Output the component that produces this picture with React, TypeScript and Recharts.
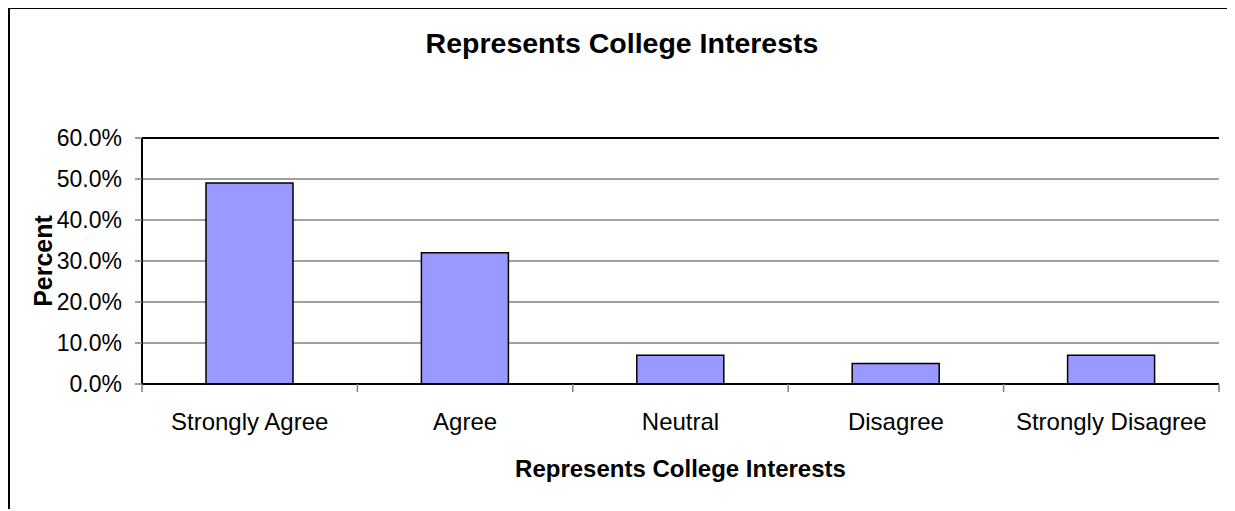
import React from 'react'
import {
  BarChart,
  Bar,
  XAxis,
  YAxis,
  CartesianGrid,
  ReferenceLine,
} from 'recharts'

const categories = ['Strongly Agree', 'Agree', 'Neutral', 'Disagree', 'Strongly Disagree']
const percents = [0.49, 0.32, 0.07, 0.05, 0.07]
const yTicks = [0, 0.1, 0.2, 0.3, 0.4, 0.5, 0.6]

const data = categories.map((name, i) => ({ name, value: percents[i] }))

const FONT = '"Liberation Sans", Arial, sans-serif'
const LABEL_GAP = 29

function XTitle({ viewBox, text }: any) {
  const vb = viewBox || { x: 0, y: 0, width: 0, height: 0 }
  return (
    <text
      x={vb.x + vb.width / 2}
      y={vb.y + 93}
      textAnchor="middle"
      fontFamily={FONT}
      fontWeight="bold"
      fontSize={24}
      fill="#000"
    >
      {text}
    </text>
  )
}

function YTitle({ viewBox, text }: any) {
  const vb = viewBox || { x: 0, y: 0, width: 0, height: 0 }
  const cx = 33
  const cy = vb.y + vb.height / 2
  return (
    <text
      x={cx}
      y={cy}
      transform={`rotate(-90, ${cx}, ${cy})`}
      textAnchor="middle"
      dominantBaseline="central"
      fontFamily={FONT}
      fontWeight="bold"
      fontSize={25}
      fill="#000"
    >
      {text}
    </text>
  )
}

// category label plus the tick marks on the category boundaries
function CategoryTick({ x, y, payload, index, visibleTicksCount }: any) {
  const half = payload?.offset ?? 0
  const axisY = y - LABEL_GAP
  const last = index === (visibleTicksCount ?? categories.length) - 1
  return (
    <g>
      <line x1={x - half} x2={x - half} y1={axisY} y2={axisY + 8} stroke="#808080" strokeWidth={1.5} />
      {last && (
        <line x1={x + half} x2={x + half} y1={axisY} y2={axisY + 8} stroke="#808080" strokeWidth={1.5} />
      )}
      <text x={x} y={y} dy="0.71em" textAnchor="middle" fontFamily={FONT} fontSize={24} fill="#000">
        {payload.value}
      </text>
    </g>
  )
}

export default function App() {
  return (
    <div
      style={{
        position: 'relative',
        width: 1224,
        height: 500,
        borderLeft: '2px solid #000',
        borderTop: '1px solid #000',
        borderRight: '1px solid #999',
        background: '#fff',
      }}
    >
      <div
        style={{
          position: 'absolute',
          left: 0,
          right: 0,
          top: 20,
          textAlign: 'center',
          fontFamily: FONT,
          fontWeight: 'bold',
          fontSize: 28.5,
          lineHeight: '28px',
          color: '#000',
        }}
      >
        Represents College Interests
      </div>
      <BarChart
        width={1224}
        height={500}
        data={data}
        margin={{ top: 129, right: 15, bottom: 25, left: 0 }}
      >
        <CartesianGrid horizontal vertical={false} stroke="#808080" strokeWidth={1.5} />
        <XAxis xAxisId="b" type="number" domain={[0, 5]} hide />
        <XAxis
          dataKey="name"
          height={100}
          tickLine={false}
          tickSize={0}
          tickMargin={LABEL_GAP}
          axisLine={{ stroke: '#000', strokeWidth: 2 }}
          tick={<CategoryTick />}
          interval={0}
          label={<XTitle text="Represents College Interests" />}
        />
        <YAxis
          width={132}
          domain={[0, 0.6]}
          ticks={yTicks}
          tickSize={7}
          tickMargin={13}
          tickFormatter={(v: number) => `${(v * 100).toFixed(1)}%`}
          axisLine={{ stroke: '#000', strokeWidth: 2 }}
          tickLine={{ stroke: '#808080', strokeWidth: 1.5 }}
          tick={{ fill: '#000', fontSize: 23, fontFamily: FONT }}
          label={<YTitle text="Percent" />}
        />
        <ReferenceLine y={0.6} stroke="#000" strokeWidth={2} />
        <ReferenceLine xAxisId="b" x={5} stroke="#000" strokeWidth={2} />
        <Bar
          dataKey="value"
          fill="#9999ff"
          stroke="#000"
          strokeWidth={1.5}
          barSize={87}
          isAnimationActive={false}
        />
      </BarChart>
    </div>
  )
}
